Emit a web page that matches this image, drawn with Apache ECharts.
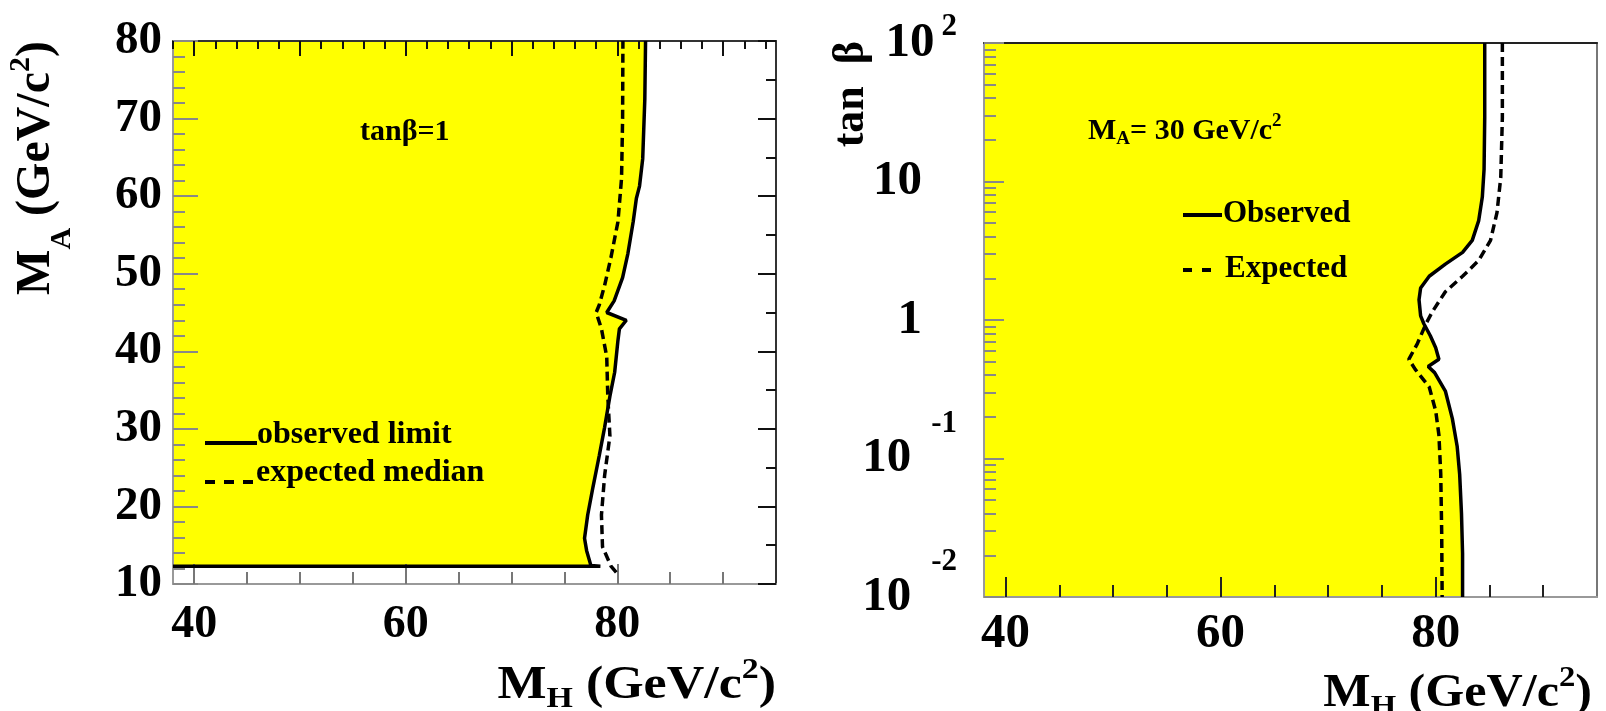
<!DOCTYPE html>
<html><head><meta charset="utf-8">
<script src="https://cdn.jsdelivr.net/npm/echarts@6/dist/echarts.min.js"></script>
<style>html,body{margin:0;padding:0;background:#fff}#c{width:1606px;height:711px}</style>
</head><body><div id="c"></div>
<script>
// ---------- Left panel (tanβ = 1): x = M_H, y = M_A ----------
const leftObserved = [[38,12.3],[78.4,12.3],[77.5,12.4],[77.1,14.3],[76.9,15.9],[77.2,18.9],[77.7,22.5],[78.3,26.6],[78.8,30.2],[79.3,34.2],[79.75,37.3],[80.06,41.4],[80.2,42.9],[80.85,44.0],[79.0,45.0],[79.7,46.5],[80.5,49.5],[81.0,52.6],[81.5,56.7],[81.8,59.7],[82.1,61.3],[82.4,64.8],[82.6,72.5],[82.67,80]];
const leftExpected = [[79.9,11.5],[79.4,12.3],[78.6,14.8],[78.5,18.9],[78.8,24.0],[79.3,29.1],[79.1,34.2],[79.0,39.3],[78.5,42.9],[78.0,45.0],[78.3,46.0],[78.8,48.5],[79.4,52.1],[80.06,56.7],[80.4,62.3],[80.5,70],[80.53,80]];
// ---------- Right panel (M_A = 30): x = M_H, y = tanβ ----------
const rightObserved = [[84.56,100],[84.56,28.8],[84.5,12.3],[84.34,7.76],[84.0,5.22],[83.4,3.76],[82.5,3.08],[80.9,2.53],[79.4,2.07],[78.6,1.70],[78.45,1.40],[78.6,1.07],[78.9,0.94],[79.5,0.77],[80.0,0.63],[80.3,0.52],[79.3,0.462],[79.9,0.417],[80.9,0.307],[81.55,0.194],[82.0,0.122],[82.23,0.0769],[82.4,0.0398],[82.5,0.0206],[82.5,0.01]];
const rightExpected = [[86.2,100],[86.2,28.8],[86.05,10.7],[85.7,5.96],[85.1,3.76],[84.0,2.69],[82.5,2.07],[80.9,1.60],[79.7,1.15],[79.1,0.94],[78.3,0.676],[77.5,0.52],[78.1,0.44],[79.4,0.328],[80.0,0.221],[80.3,0.148],[80.47,0.0776],[80.56,0.0288],[80.6,0.01]];

// ---------- tick values / labels ----------
const xLabels = [40,60,80];
const xBottomMinor = [45,50,55,65,70,75,85,90];
const leftTopMajor = [40,50,60,70,80,90];
const leftTopMinor = [38,42,44,46,48,52,54,56,58,62,64,66,68,72,74,76,78,82,84,86,88,92,94];
const leftYLabels = [10,20,30,40,50,60,70,80];
const leftYLeftMinor = [12,14,16,18,22,24,26,28,32,34,36,38,42,44,46,48,52,54,56,58,62,64,66,68,72,74,76,78];
const leftYRightMinor = [15,25,35,45,55,65,75];
const rightYLabels = [0.01,0.1,1,10,100];
const rightYMinor = [0.02,0.03,0.04,0.05,0.06,0.07,0.08,0.09,0.2,0.3,0.4,0.5,0.6,0.7,0.8,0.9,2,3,4,5,6,7,8,9,20,30,40,50,60,70,80,90];

const FONT = '"Liberation Serif","Times New Roman",serif';
const YELLOW = '#ffff00';
const LG = {left:173, top:41, width:603, height:543};
const RG = {left:984, top:43, width:613, height:554};

function tick(vals, len, color){ return {show:true, inside:true, length:len, customValues:vals, lineStyle:{color:color, width:2}}; }
const noLabel = {show:false};
const noLine = {show:false};
function line(color){ return {show:true, lineStyle:{color:color, width:2}}; }
const lbl = (size, margin, extra) => Object.assign({show:true, fontFamily:FONT, fontWeight:'bold', fontSize:size, color:'#000', margin:margin, showMinLabel:true, showMaxLabel:true}, extra||{});

function fillRender(points){
  return function(params, api){
    return {type:'polygon', shape:{points:points.map(p => api.coord(p))}, style:{fill:YELLOW}};
  };
}
const leftFill = leftObserved.concat([[38,80]]);
const rightFill = rightObserved.concat([[38,0.01],[38,100]]);

function xBase(grid, pos){ return {type:'value', gridIndex:grid, position:pos, min:38, max:95, splitLine:{show:false}, z:4}; }
function yBase(grid, pos, log){
  return log ? {type:'log', logBase:10, gridIndex:grid, position:pos, min:0.01, max:100, splitLine:{show:false}, z:4}
             : {type:'value', gridIndex:grid, position:pos, min:10, max:80, splitLine:{show:false}, z:4};
}

const rich = {
  p:{fontFamily:FONT, fontWeight:'bold', fontSize:49, color:'#000', padding:[0,35,0,0]},
  b:{fontFamily:FONT, fontWeight:'bold', fontSize:49, color:'#000', padding:[0,7,0,0]},
  e1:{fontFamily:FONT, fontWeight:'bold', fontSize:31, lineHeight:30, color:'#000', padding:[0,0,32,0]},
  b2:{fontFamily:FONT, fontWeight:'bold', fontSize:49, color:'#000', padding:[0,20,0,0]},
  e2:{fontFamily:FONT, fontWeight:'bold', fontSize:31, lineHeight:30, color:'#000', padding:[0,0,70,0]}
};
function logFmt(v){
  const e = Math.round(Math.log10(v));
  if (e === 2) return '{b|10}{e1|2}';
  if (e === 1) return '{p|10}';
  if (e === 0) return '{p|1}';
  return '{b2|10}{e2|' + e + '}';
}

const option = {
  animation:false,
  backgroundColor:'#fff',
  grid:[
    Object.assign({outerBoundsMode:'none', containLabel:false}, LG),
    Object.assign({outerBoundsMode:'none', containLabel:false}, LG),
    Object.assign({outerBoundsMode:'none', containLabel:false}, RG),
    Object.assign({outerBoundsMode:'none', containLabel:false}, RG)
  ],
  xAxis:[
    Object.assign(xBase(0,'bottom'), {axisLine:line('#999'), axisTick:tick(xLabels,20,'#777'), axisLabel:lbl(46,18,{customValues:xLabels})}),
    Object.assign(xBase(0,'top'), {axisLine:line('#333'), axisTick:tick(leftTopMajor,15,'#111'), axisLabel:noLabel}),
    Object.assign(xBase(1,'bottom'), {axisLine:noLine, axisTick:tick(xBottomMinor,12,'#777'), axisLabel:noLabel}),
    Object.assign(xBase(1,'top'), {axisLine:noLine, axisTick:tick(leftTopMinor,8,'#111'), axisLabel:noLabel}),
    Object.assign(xBase(2,'bottom'), {axisLine:line('#999'), axisTick:tick(xLabels,20,'#222'), axisLabel:lbl(49,13,{customValues:xLabels})}),
    Object.assign(xBase(2,'top'), {axisLine:line('#222'), axisTick:{show:false}, axisLabel:noLabel}),
    Object.assign(xBase(3,'bottom'), {axisLine:noLine, axisTick:tick(xBottomMinor,12,'#222'), axisLabel:noLabel})
  ],
  yAxis:[
    Object.assign(yBase(0,'left'), {axisLine:line('#999'), axisTick:tick(leftYLabels,25,'#888'), axisLabel:lbl(47,11,{customValues:leftYLabels})}),
    Object.assign(yBase(0,'right'), {axisLine:line('#333'), axisTick:tick(leftYLabels,18,'#111'), axisLabel:noLabel}),
    Object.assign(yBase(1,'left'), {axisLine:noLine, axisTick:tick(leftYLeftMinor,12,'#888'), axisLabel:noLabel}),
    Object.assign(yBase(1,'right'), {axisLine:noLine, axisTick:tick(leftYRightMinor,10,'#111'), axisLabel:noLabel}),
    Object.assign(yBase(2,'left',true), {axisLine:line('#999'), axisTick:tick(rightYLabels,20,'#888'), axisLabel:lbl(49,27,{customValues:rightYLabels, formatter:logFmt, rich:rich})}),
    Object.assign(yBase(2,'right',true), {axisLine:line('#777'), axisTick:{show:false}, axisLabel:noLabel}),
    Object.assign(yBase(3,'left',true), {axisLine:noLine, axisTick:tick(rightYMinor,12,'#888'), axisLabel:noLabel})
  ],
  series:[
    {type:'custom', coordinateSystem:'cartesian2d', xAxisIndex:0, yAxisIndex:0, data:[[38,80]], renderItem:fillRender(leftFill), silent:true, z:1},
    {type:'line', xAxisIndex:0, yAxisIndex:0, data:leftObserved, symbol:'none', silent:true, z:5, lineStyle:{color:'#000', width:3.5}},
    {type:'line', xAxisIndex:0, yAxisIndex:0, data:leftExpected, symbol:'none', silent:true, z:5, lineStyle:{color:'#000', width:3.5, type:[9,5]}},
    {type:'custom', coordinateSystem:'cartesian2d', xAxisIndex:4, yAxisIndex:4, data:[[38,100]], renderItem:fillRender(rightFill), silent:true, z:1},
    {type:'line', xAxisIndex:4, yAxisIndex:4, data:rightObserved, symbol:'none', silent:true, z:5, lineStyle:{color:'#000', width:3.5}},
    {type:'line', xAxisIndex:4, yAxisIndex:4, data:rightExpected, symbol:'none', silent:true, z:5, lineStyle:{color:'#000', width:3.5, type:[9,5]}}
  ],
  graphic:[]
};

function rt(size){ return {fontFamily:FONT, fontWeight:'bold', fontSize:size, fill:'#000', color:'#000'}; }
function txt(x, y, text, richObj, align, rotation, scaleX){
  return {type:'text', x:x, y:y, rotation:rotation||0, scaleX:scaleX||1, z:10, silent:true,
    style:{text:text, rich:richObj, align:align, textAlign:align, verticalAlign:'middle', textVerticalAlign:'middle', fill:'#000', fontFamily:FONT, fontWeight:'bold'}};
}
function titleRich(size, sub, supRaise, subDrop){
  return {
    m: rt(size),
    s: Object.assign(rt(sub), {padding:[subDrop*2,0,0,0]}),
    u: Object.assign(rt(sub), {padding:[0,0,supRaise*2,0]})
  };
}
const g = option.graphic;
// axis titles
g.push(txt(776, 686, '{m|M}{s|H}{m| (GeV/c}{u|2}{m|)}', titleRich(46,30,16,13), 'right', 0, 1.13));
g.push(txt(1592, 694, '{m|M}{s|H}{m| (GeV/c}{u|2}{m|)}', titleRich(46,30,16,13), 'right', 0, 1.09));
g.push(txt(37, 41, '{m|M}{s|A}{m| (GeV/c}{u|2}{m|)}', titleRich(48,30,16,25), 'right', Math.PI/2));
g.push(txt(852, 41, '{m|tan  β}', {m:rt(44)}, 'right', Math.PI/2));
// annotations
g.push(txt(360, 132, '{m|tanβ=1}', {m:rt(30)}, 'left'));
g.push(txt(1088, 131, '{m|M}{s|A}{m|= 30 GeV/c}{u|2}', titleRich(30,19,10,8), 'left'));
// left legend
g.push({type:'line', z:10, silent:true, shape:{x1:205, y1:443, x2:257, y2:443}, style:{stroke:'#000', lineWidth:4}});
g.push({type:'line', z:10, silent:true, shape:{x1:205, y1:482, x2:253, y2:482}, style:{stroke:'#000', lineWidth:4, lineDash:[10,9]}});
g.push(txt(257, 435, '{m|observed limit}', {m:rt(32)}, 'left'));
g.push(txt(256, 473, '{m|expected median}', {m:rt(32)}, 'left'));
// right legend
g.push({type:'line', z:10, silent:true, shape:{x1:1183, y1:215, x2:1222, y2:215}, style:{stroke:'#000', lineWidth:4}});
g.push({type:'line', z:10, silent:true, shape:{x1:1183, y1:270, x2:1211, y2:270}, style:{stroke:'#000', lineWidth:4, lineDash:[9,10]}});
g.push(txt(1223, 214, '{m|Observed}', {m:rt(31)}, 'left'));
g.push(txt(1225, 269, '{m|Expected}', {m:rt(31)}, 'left'));

const chart = echarts.init(document.getElementById('c'), null, {renderer:'canvas'});
chart.setOption(option);
</script></body></html>
